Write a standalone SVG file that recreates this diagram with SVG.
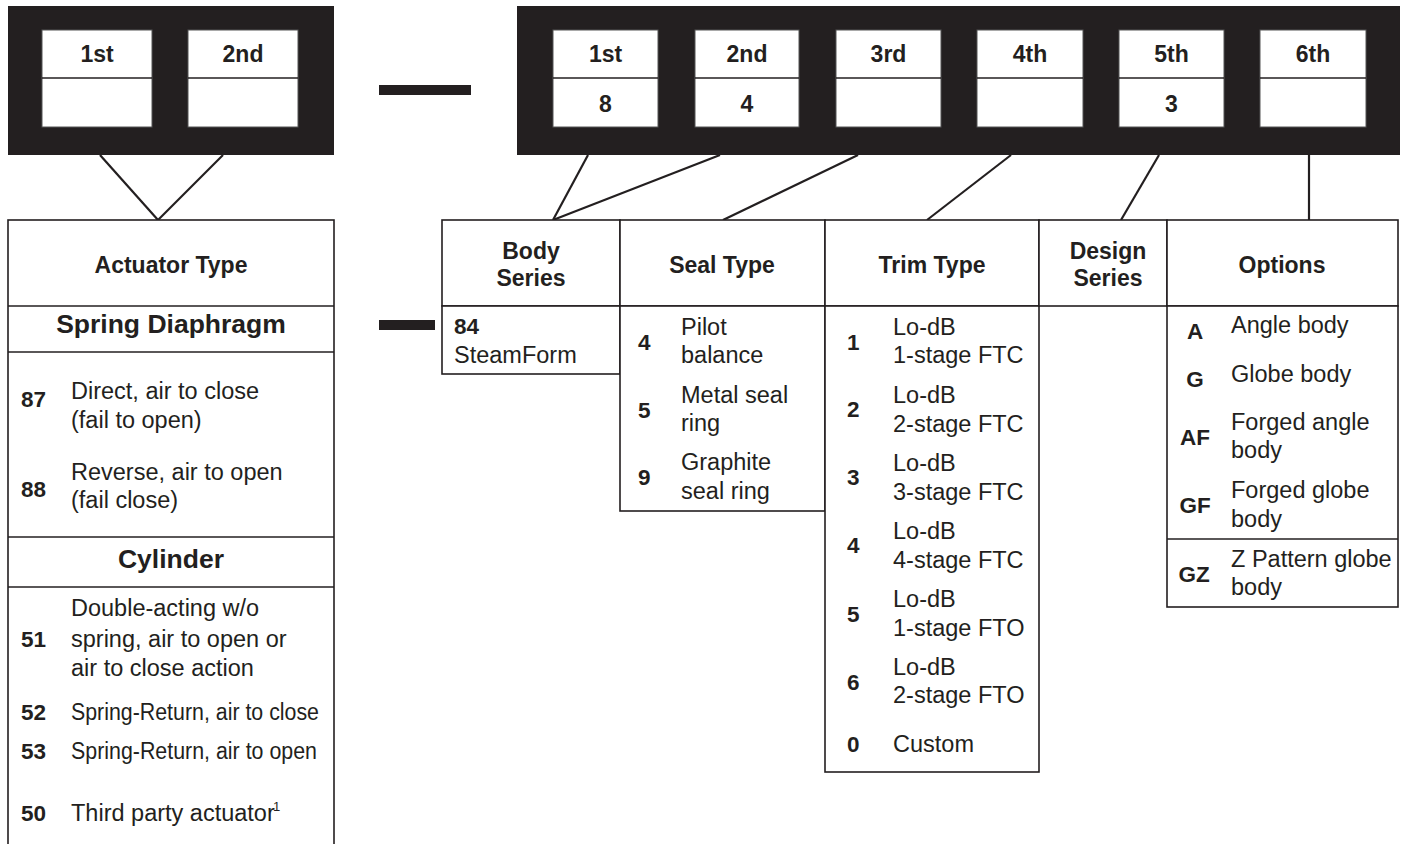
<svg xmlns="http://www.w3.org/2000/svg" width="1404" height="844" viewBox="0 0 1404 844">
<style>
.blk{fill:#231f20}
.cell{fill:#fff;stroke:#555;stroke-width:1}
.bx{fill:#fff;stroke:#231f20;stroke-width:1.6}
.dv{stroke:#231f20;stroke-width:1.6;fill:none}
.ln{stroke:#231f20;stroke-width:2.2;fill:none}
.h{font-family:"Liberation Sans",Arial,Helvetica,sans-serif;font-weight:bold;font-size:23px;fill:#231f20;text-anchor:middle}
.hb{font-family:"Liberation Sans",Arial,Helvetica,sans-serif;font-weight:bold;font-size:26.5px;fill:#231f20;text-anchor:middle}
.t{font-family:"Liberation Sans",Arial,Helvetica,sans-serif;font-size:23.5px;fill:#231f20}
.n{font-family:"Liberation Sans",Arial,Helvetica,sans-serif;font-weight:bold;font-size:22.5px;fill:#231f20}
.nc{font-family:"Liberation Sans",Arial,Helvetica,sans-serif;font-weight:bold;font-size:22.5px;fill:#231f20;text-anchor:middle}
.sup{font-family:"Liberation Sans",Arial,Helvetica,sans-serif;font-size:13px;fill:#231f20}
</style>

<g id="connectors">
  <line class="ln" x1="100" y1="155" x2="158" y2="220"/>
  <line class="ln" x1="223" y1="155" x2="158" y2="220"/>
  <line class="ln" x1="588" y1="155" x2="553" y2="220"/>
  <line class="ln" x1="720" y1="155" x2="553" y2="220"/>
  <line class="ln" x1="858" y1="155" x2="723" y2="220"/>
  <line class="ln" x1="1011" y1="155" x2="927" y2="220"/>
  <line class="ln" x1="1159" y1="155" x2="1121" y2="220"/>
  <line class="ln" x1="1309" y1="155" x2="1309" y2="220"/>
</g>

<g id="dashes">
  <rect class="blk" x="379" y="85" width="92" height="10"/>
  <rect class="blk" x="379" y="320" width="56" height="10"/>
</g>

<g id="actuator-code">
  <rect class="blk" x="8" y="6" width="326" height="149"/>
  <rect class="cell" x="42" y="30" width="110" height="97"/>
  <line class="dv" x1="42" y1="78" x2="152" y2="78"/>
  <rect class="cell" x="188" y="30" width="110" height="97"/>
  <line class="dv" x1="188" y1="78" x2="298" y2="78"/>
  <text class="h" x="97" y="62">1st</text>
  <text class="h" x="243" y="62">2nd</text>
</g>

<g id="body-code">
  <rect class="blk" x="517" y="6" width="883" height="149"/>
  <rect class="cell" x="553" y="30" width="105" height="97"/>
  <line class="dv" x1="553" y1="78" x2="658" y2="78"/>
  <rect class="cell" x="695" y="30" width="104" height="97"/>
  <line class="dv" x1="695" y1="78" x2="799" y2="78"/>
  <rect class="cell" x="836" y="30" width="105" height="97"/>
  <line class="dv" x1="836" y1="78" x2="941" y2="78"/>
  <rect class="cell" x="977" y="30" width="106" height="97"/>
  <line class="dv" x1="977" y1="78" x2="1083" y2="78"/>
  <rect class="cell" x="1119" y="30" width="105" height="97"/>
  <line class="dv" x1="1119" y1="78" x2="1224" y2="78"/>
  <rect class="cell" x="1260" y="30" width="106" height="97"/>
  <line class="dv" x1="1260" y1="78" x2="1366" y2="78"/>
  <text class="h" x="605.5" y="62">1st</text>
  <text class="h" x="747" y="62">2nd</text>
  <text class="h" x="888.5" y="62">3rd</text>
  <text class="h" x="1030" y="62">4th</text>
  <text class="h" x="1171.5" y="62">5th</text>
  <text class="h" x="1313" y="62">6th</text>
  <text class="h" x="605.5" y="112">8</text>
  <text class="h" x="747" y="112">4</text>
  <text class="h" x="1171.5" y="112">3</text>
</g>

<g id="actuator-type">
  <rect class="bx" x="8" y="220" width="326" height="640"/>
  <line class="dv" x1="8" y1="306" x2="334" y2="306"/>
  <line class="dv" x1="8" y1="352" x2="334" y2="352"/>
  <line class="dv" x1="8" y1="537" x2="334" y2="537"/>
  <line class="dv" x1="8" y1="587" x2="334" y2="587"/>
  <text class="h" x="171" y="273">Actuator Type</text>
  <text class="hb" x="171" y="333">Spring Diaphragm</text>
  <text class="n" x="21" y="407">87</text>
  <text class="t" x="71" y="399">Direct, air to close</text>
  <text class="t" x="71" y="428">(fail to open)</text>
  <text class="n" x="21" y="497">88</text>
  <text class="t" x="71" y="480">Reverse, air to open</text>
  <text class="t" x="71" y="508">(fail close)</text>
  <text class="hb" x="171" y="568">Cylinder</text>
  <text class="n" x="21" y="647">51</text>
  <text class="t" x="71" y="616">Double-acting w/o</text>
  <text class="t" x="71" y="647">spring, air to open or</text>
  <text class="t" x="71" y="676">air to close action</text>
  <text class="n" x="21" y="720">52</text>
  <text class="t" x="71" y="720" textLength="248" lengthAdjust="spacingAndGlyphs">Spring-Return, air to close</text>
  <text class="n" x="21" y="759">53</text>
  <text class="t" x="71" y="759" textLength="246" lengthAdjust="spacingAndGlyphs">Spring-Return, air to open</text>
  <text class="n" x="21" y="821">50</text>
  <text class="t" x="71" y="821">Third party actuator</text>
  <text class="sup" x="273" y="811">1</text>
</g>

<g id="body-series">
  <rect class="bx" x="442" y="220" width="178" height="86"/>
  <rect class="bx" x="442" y="306" width="178" height="68"/>
  <text class="h" x="531" y="259">Body</text>
  <text class="h" x="531" y="286">Series</text>
  <text class="n" x="454" y="334">84</text>
  <text class="t" x="454" y="363">SteamForm</text>
</g>

<g id="seal-type">
  <rect class="bx" x="620" y="220" width="205" height="86"/>
  <rect class="bx" x="620" y="306" width="205" height="205"/>
  <text class="h" x="722" y="273">Seal Type</text>
  <text class="n" x="638" y="350">4</text>
  <text class="t" x="681" y="335">Pilot</text>
  <text class="t" x="681" y="363">balance</text>
  <text class="n" x="638" y="418">5</text>
  <text class="t" x="681" y="403">Metal seal</text>
  <text class="t" x="681" y="431">ring</text>
  <text class="n" x="638" y="485">9</text>
  <text class="t" x="681" y="470">Graphite</text>
  <text class="t" x="681" y="499">seal ring</text>
</g>

<g id="trim-type">
  <rect class="bx" x="825" y="220" width="214" height="86"/>
  <rect class="bx" x="825" y="306" width="214" height="466"/>
  <text class="h" x="932" y="273">Trim Type</text>
  <text class="n" x="847" y="350">1</text>
  <text class="t" x="893" y="335">Lo-dB</text>
  <text class="t" x="893" y="363">1-stage FTC</text>
  <text class="n" x="847" y="417">2</text>
  <text class="t" x="893" y="403">Lo-dB</text>
  <text class="t" x="893" y="432">2-stage FTC</text>
  <text class="n" x="847" y="485">3</text>
  <text class="t" x="893" y="471">Lo-dB</text>
  <text class="t" x="893" y="500">3-stage FTC</text>
  <text class="n" x="847" y="553">4</text>
  <text class="t" x="893" y="539">Lo-dB</text>
  <text class="t" x="893" y="568">4-stage FTC</text>
  <text class="n" x="847" y="622">5</text>
  <text class="t" x="893" y="607">Lo-dB</text>
  <text class="t" x="893" y="636">1-stage FTO</text>
  <text class="n" x="847" y="690">6</text>
  <text class="t" x="893" y="675">Lo-dB</text>
  <text class="t" x="893" y="703">2-stage FTO</text>
  <text class="n" x="847" y="752">0</text>
  <text class="t" x="893" y="752">Custom</text>
</g>

<g id="design-series">
  <rect class="bx" x="1039" y="220" width="128" height="86"/>
  <text class="h" x="1108" y="259">Design</text>
  <text class="h" x="1108" y="286">Series</text>
</g>

<g id="options">
  <rect class="bx" x="1167" y="220" width="231" height="86"/>
  <rect class="bx" x="1167" y="306" width="231" height="301"/>
  <line class="dv" x1="1167" y1="539" x2="1398" y2="539"/>
  <text class="h" x="1282" y="273">Options</text>
  <text class="nc" x="1195" y="339">A</text>
  <text class="t" x="1231" y="333">Angle body</text>
  <text class="nc" x="1195" y="387">G</text>
  <text class="t" x="1231" y="382">Globe body</text>
  <text class="nc" x="1195" y="445">AF</text>
  <text class="t" x="1231" y="430">Forged angle</text>
  <text class="t" x="1231" y="458">body</text>
  <text class="nc" x="1195" y="513">GF</text>
  <text class="t" x="1231" y="498">Forged globe</text>
  <text class="t" x="1231" y="527">body</text>
  <text class="nc" x="1194" y="582">GZ</text>
  <text class="t" x="1231" y="567">Z Pattern globe</text>
  <text class="t" x="1231" y="595">body</text>
</g>
</svg>
